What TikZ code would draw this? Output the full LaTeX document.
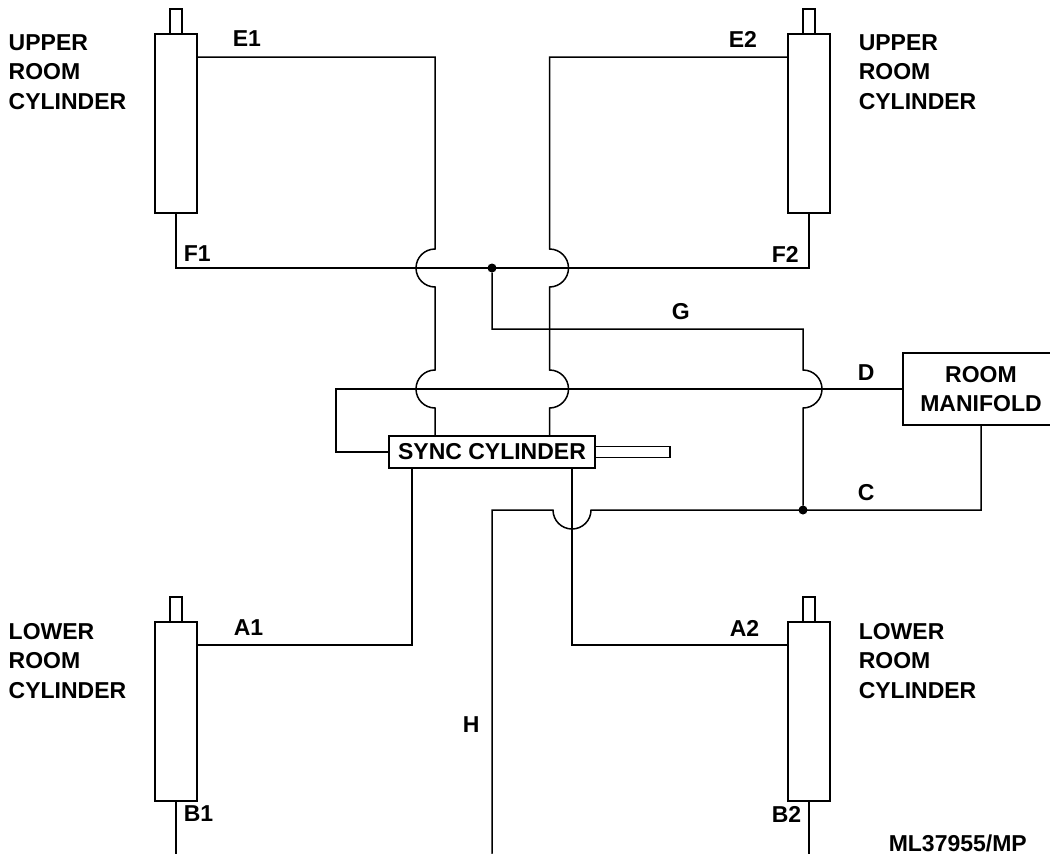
\documentclass[tikz,border=0pt]{standalone}
\usepackage{fontspec}
\setmainfont{Liberation Sans}
\begin{document}
\begin{tikzpicture}[
  x=1pt,
  y=-1pt,
  line width=1.5pt,
  mycyl/.style={
    rectangle,
    fill=white,
    draw,
    outer sep=0pt,
    inner sep=0pt,
    minimum width=42pt,
    minimum height=179pt
  },
  myrod/.style={
    rectangle,
    fill=white,
    draw,
    outer sep=0pt,
    inner sep=0pt,
    minimum width=12pt,
    minimum height=25pt
  },
  mydot/.style={
    circle,
    fill=black,
    draw=none,
    outer sep=0pt,
    inner sep=0pt,
    minimum size=9pt
  },
  mybox/.style={
    rectangle,
    fill=white,
    draw,
    outer sep=0pt,
    inner sep=0pt,
    align=center,
    font=\fontsize{23}{29.5}\selectfont\bfseries
  },
  mylabel/.style={
    anchor=west,
    inner sep=0pt,
    align=left,
    font=\fontsize{23}{29.5}\selectfont\bfseries
  }
]
\useasboundingbox (0,0) rectangle (1050,854);
\clip (0,0) rectangle (1050,854);
% cylinders
\foreach \cname/\x/\y in {upl/176/123.5,upr/809/123.5,lol/176/711.5,lor/809/711.5} {
  \node[mycyl] (\cname) at (\x,\y) {};
  \node[myrod,anchor=south] (\cname rod) at (\cname.north) {};
}
\node[mybox,minimum width=206pt,minimum height=32pt] (sync) at (492,452) {SYNC CYLINDER};
\node[myrod,minimum width=75pt,minimum height=11pt,anchor=west] (syncrod) at (sync.east) {};
\node[mybox,minimum width=156pt,minimum height=72pt] (manifold) at (981,389) {ROOM\\MANIFOLD};
\node[mydot] (dotF) at (492,268) {};
\node[mydot] (dotC) at (803,510) {};
\node[mydot] (dotH) at (492,858) {};
% ports
\coordinate (portE1) at (197,57);
\coordinate (portE2) at (788,57);
\coordinate (portA1) at (197,645);
\coordinate (portA2) at (788,645);
\coordinate (syncE1) at (435,436);
\coordinate (syncE2) at (549.5,436);
\coordinate (syncA1) at (412,468);
\coordinate (syncA2) at (572,468);
\coordinate (syncD) at (336,389);
\coordinate (endB1) at (176,860);
\coordinate (endB2) at (809,860);
% lines
\draw (portE1) -- (435,57) -- (435,249) arc[start angle=270,end angle=90,radius=19]
  -- (435,370) arc[start angle=270,end angle=90,radius=19] -- (syncE1);
\draw (portE2) -- (549.5,57) -- (549.5,249) arc[start angle=-90,end angle=90,radius=19]
  -- (549.5,370) arc[start angle=-90,end angle=90,radius=19] -- (syncE2);
\draw (upl.south) -- (176,268) -- (809,268) -- (upr.south);
\draw (dotF) -- (492,329) -- (803,329) -- (803,370) arc[start angle=-90,end angle=90,radius=19] -- (dotC);
\draw (sync.west) -- (336,452) -- (syncD) -- (manifold.west);
\draw (manifold.south) -- (981,510) -- (591,510) arc[start angle=0,end angle=180,radius=19]
  -- (492,510) -- (dotH);
\draw (syncA1) -- (412,645) -- (portA1);
\draw (syncA2) -- (572,645) -- (portA2);
\draw (lol.south) -- (endB1);
\draw (lor.south) -- (endB2);
% labels
\node[mylabel] (labU1) at (8,72) {UPPER\\ROOM\\CYLINDER};
\node[mylabel] (labU2) at (858,72) {UPPER\\ROOM\\CYLINDER};
\node[mylabel] (labL1) at (8,661) {LOWER\\ROOM\\CYLINDER};
\node[mylabel] (labL2) at (858,661) {LOWER\\ROOM\\CYLINDER};
\node[mylabel] (labE1) at (232,39) {E1};
\node[mylabel] (labE2) at (728,39) {E2};
\node[mylabel] (labF1) at (183,254) {F1};
\node[mylabel] (labF2) at (771,254) {F2};
\node[mylabel] (labG) at (671,312) {G};
\node[mylabel] (labD) at (857,373) {D};
\node[mylabel] (labC) at (857,493) {C};
\node[mylabel] (labA1) at (233,628) {A1};
\node[mylabel] (labA2) at (729,628) {A2};
\node[mylabel] (labB1) at (183,814) {B1};
\node[mylabel] (labB2) at (771,814) {B2};
\node[mylabel] (labH) at (462,725) {H};
\node[mylabel] (labML) at (888,843) {ML37955/MP};
\end{tikzpicture}
\end{document}
